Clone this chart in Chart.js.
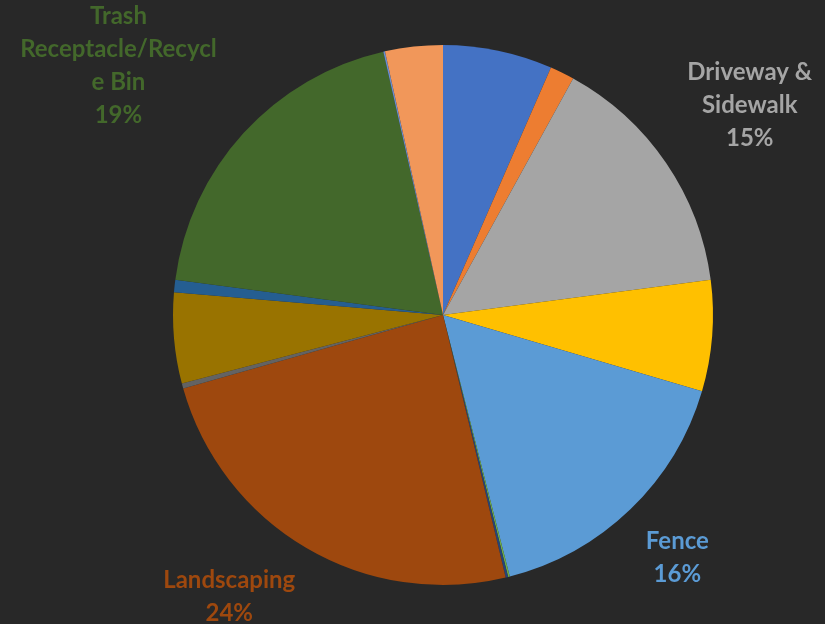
<!DOCTYPE html>
<html>
<head>
<meta charset="utf-8">
<script src="https://cdn.jsdelivr.net/npm/chart.js@4.4.1/dist/chart.umd.min.js"></script>
<style>
  html, body { margin: 0; padding: 0; background: #282828; }
  #wrap { width: 825px; height: 624px; }
</style>
</head>
<body>
<div id="wrap"><canvas id="issuesPie" width="825" height="624"></canvas></div>
<script>
// share of each request type, in percent
const categories = [
  'Mailbox', 'Lighting', 'Driveway & Sidewalk', 'Exterior Paint', 'Fence',
  'Pool', 'Patio', 'Landscaping', 'Signage', 'Roof', 'Gutters',
  'Trash Receptacle/Recycle Bin', 'Pets', 'Parking'
]
const shares = [6.55, 1.46, 14.92, 6.64, 16.47, 0.10, 0.15, 24.35, 0.30, 5.44, 0.74, 19.37, 0.10, 3.45]
const sliceColors = [
  '#4472C4', '#ED7D31', '#A5A5A5', '#FFC000', '#5B9BD5', '#70AD47', '#264478',
  '#9E480E', '#636363', '#997300', '#255E91', '#43682B', '#698ED0', '#F1975A'
]
// wrapped caption lines for the slices that carry a label (percent line is added)
const labelLines = [
  null, null, ['Driveway &', 'Sidewalk'], null, ['Fence'], null, null,
  ['Landscaping'], null, null, null, ['Trash', 'Receptacle/Recycl', 'e Bin'], null, null
]

const LINE_H = 33
const GAP = 22

// data labels outside the pie, pushed back along the circle when they hit the edge
const outsideLabels = {
  id: 'outsideLabels',
  afterDatasetsDraw(chart) {
    const ctx = chart.ctx
    const meta = chart.getDatasetMeta(0)
    const total = shares.reduce((a, b) => a + b, 0)
    ctx.save()
    ctx.font = 'bold 24px Lato'
    ctx.textAlign = 'center'
    ctx.textBaseline = 'middle'
    meta.data.forEach(function (arc, i) {
      if (!labelLines[i]) return
      const lines = labelLines[i].concat(Math.round(shares[i] / total * 100) + '%')
      const w = Math.max.apply(null, lines.map(l => ctx.measureText(l).width))
      const h = lines.length * LINE_H
      const mid = (arc.startAngle + arc.endAngle) / 2
      const ux = Math.cos(mid)
      const uy = Math.sin(mid)
      const d = arc.outerRadius + GAP + Math.abs(ux) * w / 2 + Math.abs(uy) * h / 2
      let cx = arc.x + ux * d
      let cy = arc.y + uy * d
      const minY = h / 2
      const maxY = chart.height - h / 2 + 6
      if (cy < minY || cy > maxY) {
        cy = Math.min(Math.max(cy, minY), maxY)
        const dy = cy - arc.y
        cx = arc.x + Math.sign(ux) * Math.sqrt(Math.max(d * d - dy * dy, 0))
      }
      ctx.fillStyle = sliceColors[i]
      lines.forEach(function (l, k) {
        ctx.fillText(l, cx, cy - h / 2 + LINE_H * (k + 0.5))
      })
    })
    ctx.restore()
  },
}

const ctx = document.getElementById('issuesPie').getContext('2d')
const issuesPie = new Chart(ctx, {
  type: 'pie',
  data: {
    labels: categories,
    datasets: [
      {
        data: shares,
        backgroundColor: sliceColors,
        borderWidth: 0,
        hoverOffset: 0,
      },
    ],
  },
  options: {
    responsive: false,
    animation: false,
    layout: {
      padding: { left: 61, right: 0, top: 45, bottom: 39 },
    },
    plugins: {
      legend: { display: false },
      tooltip: { enabled: false },
    },
  },
  plugins: [outsideLabels],
})
</script>
</body>
</html>
